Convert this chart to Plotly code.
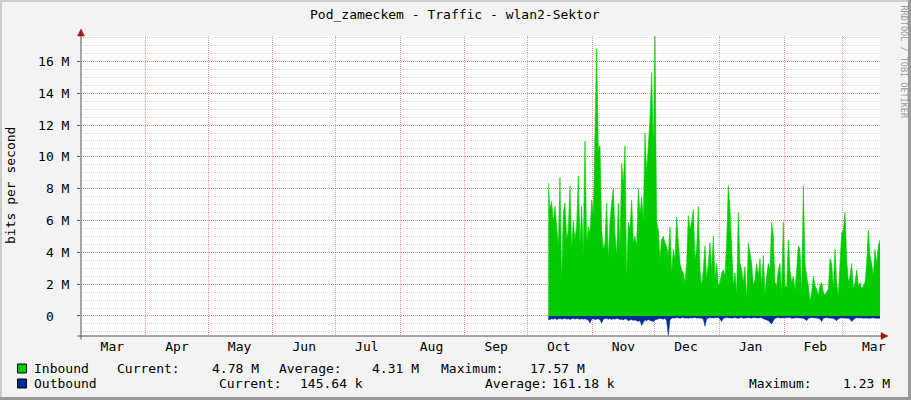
import plotly.graph_objects as go
import pandas as pd

# ---------------- data ----------------
title_text = "Pod_zameckem - Traffic - wlan2-Sektor"
y_title = "bits per second"
watermark = "RRDTOOL / TOBI OETIKER"

x_range = ["2022-03-01", "2023-03-19"]
data_start = "2022-10-11"
data_end = "2023-03-19"

month_starts = ["2022-04-01", "2022-05-01", "2022-06-01", "2022-07-01", "2022-08-01",
                "2022-09-01", "2022-10-01", "2022-11-01", "2022-12-01", "2023-01-01",
                "2023-02-01", "2023-03-01"]
month_label_dates = ["2022-03-16", "2022-04-16", "2022-05-16", "2022-06-16", "2022-07-16",
                     "2022-08-16", "2022-09-16", "2022-10-16", "2022-11-16", "2022-12-16",
                     "2023-01-16", "2023-02-16", "2023-03-16"]
month_labels = ["Mar", "Apr", "May", "Jun", "Jul", "Aug", "Sep", "Oct", "Nov", "Dec",
                "Jan", "Feb", "Mar"]

y_tick_vals = [0, 2, 4, 6, 8, 10, 12, 14, 16]
y_tick_text = ["0\u00a0\u00a0", "2 M", "4 M", "6 M", "8 M", "10 M", "12 M", "14 M", "16 M"]
y_range = [-1.26, 17.6]

# Inbound traffic, Mbit/s
inbound = [
    8.37, 6.7, 7.2, 5.9, 6.9, 5.5, 4.4, 8.7, 2.1, 6.5,
    7.1, 4.8, 5.4, 8.2, 4.2, 6.0, 4.8, 5.6, 8.8, 4.4,
    6.9, 3.9, 11.0, 4.6, 5.6, 5.2, 7.3, 6.3, 11.1, 16.8,
    10.5, 10.7, 5.4, 4.2, 4.6, 7.1, 3.6, 5.9, 7.1, 8.0,
    5.2, 3.8, 7.1, 4.2, 9.6, 8.2, 10.7, 2.3, 5.9, 5.4,
    7.3, 4.6, 5.0, 4.4, 8.0, 6.3, 7.5, 6.0, 11.5, 9.0,
    10.7, 12.4, 15.3, 10.5, 17.57, 5.9, 5.4, 3.6, 4.8, 5.0,
    4.6, 4.4, 3.8, 5.6, 2.7, 4.2, 3.5, 6.2, 4.6, 3.3,
    2.9, 2.7, 2.1, 3.3, 6.3, 5.4, 5.9, 6.7, 3.6, 4.2,
    6.9, 2.9, 1.9, 2.9, 4.4, 2.3, 3.3, 4.6, 2.9, 5.0,
    2.3, 3.3, 1.9, 2.1, 2.7, 2.9, 2.5, 4.6, 8.2, 6.7,
    4.4, 1.9, 2.7, 1.4, 6.5, 3.3, 2.9, 2.1, 3.1, 1.0,
    4.6, 3.8, 3.3, 1.9, 2.3, 3.3, 2.5, 3.6, 1.9, 3.8,
    1.4, 2.5, 3.3, 2.9, 5.9, 5.0, 2.1, 1.9, 2.9, 3.3,
    1.4, 5.9, 1.9, 1.8, 4.8, 2.9, 2.1, 2.5, 1.6, 2.9,
    4.4, 4.2, 1.3, 8.2, 3.3, 2.5, 1.9, 0.9, 1.5, 2.5,
    1.9, 1.7, 1.3, 1.9, 2.1, 1.5, 1.3, 1.5, 1.7, 3.6,
    3.3, 1.7, 4.2, 2.1, 1.3, 3.3, 5.2, 5.4, 6.5, 3.6,
    2.1, 2.5, 3.3, 1.7, 2.1, 2.9, 1.9, 2.1, 1.7, 1.9,
    2.1, 3.3, 5.4, 3.8, 3.3, 2.5, 4.2, 3.3, 4.4, 4.78,
]

# Outbound traffic, Mbit/s (drawn below zero)
outbound = [
    0.25, 0.22, 0.18, 0.2, 0.15, 0.22, 0.18, 0.16, 0.2, 0.18,
    0.15, 0.2, 0.17, 0.22, 0.18, 0.15, 0.2, 0.16, 0.18, 0.21,
    0.17, 0.2, 0.18, 0.22, 0.25, 0.45, 0.2, 0.18, 0.22, 0.2,
    0.17, 0.25, 0.45, 0.2, 0.18, 0.15, 0.2, 0.17, 0.22, 0.18,
    0.2, 0.16, 0.18, 0.22, 0.2, 0.25, 0.18, 0.2, 0.3, 0.25,
    0.22, 0.28, 0.25, 0.3, 0.35, 0.28, 0.6, 0.4, 0.25, 0.3,
    0.22, 0.28, 0.3, 0.35, 0.25, 0.2, 0.18, 0.15, 0.17, 0.2,
    0.15, 0.3, 1.23, 0.25, 0.15, 0.12, 0.14, 0.1, 0.12, 0.15,
    0.12, 0.1, 0.14, 0.12, 0.15, 0.11, 0.13, 0.12, 0.1, 0.14,
    0.12, 0.15, 0.13, 0.2, 0.65, 0.18, 0.12, 0.1, 0.13, 0.12,
    0.15, 0.12, 0.1, 0.2, 0.35, 0.15, 0.12, 0.1, 0.13, 0.11,
    0.14, 0.12, 0.1, 0.13, 0.15, 0.12, 0.1, 0.14, 0.12, 0.13,
    0.11, 0.12, 0.14, 0.1, 0.12, 0.15, 0.13, 0.11, 0.12, 0.18,
    0.2, 0.25, 0.3, 0.4, 0.5, 0.3, 0.15, 0.12, 0.1, 0.13,
    0.12, 0.14, 0.11, 0.13, 0.12, 0.1, 0.15, 0.12, 0.13, 0.11,
    0.12, 0.14, 0.12, 0.15, 0.2, 0.3, 0.15, 0.12, 0.1, 0.12,
    0.13, 0.11, 0.14, 0.2, 0.35, 0.15, 0.12, 0.1, 0.13, 0.12,
    0.14, 0.15, 0.2, 0.3, 0.18, 0.12, 0.11, 0.13, 0.12, 0.14,
    0.15, 0.2, 0.35, 0.22, 0.15, 0.12, 0.14, 0.13, 0.12, 0.15,
    0.13, 0.12, 0.14, 0.15, 0.13, 0.12, 0.14, 0.16, 0.15, 0.14564,
]

legend_names = ["Inbound", "Outbound"]
legend_colors = ["#00CC00", "#002A97"]
stat_current = ["4.78 M", "145.64 k"]
stat_average = ["4.31 M", "161.18 k"]
stat_maximum = ["17.57 M", "1.23 M"]

# ---------------- layout geometry (pixels) ----------------
W, H = 911, 400
L, R, T, B = 81, 31, 36, 64
PW, PH = W - L - R, H - T - B


def px(x):
    return (x - L) / PW


def py(y):
    return (T + PH - y) / PH


FONT = "DejaVu Sans Mono"
dates = pd.date_range(data_start, data_end, periods=len(inbound))

fig = go.Figure()
fig.add_trace(go.Scatter(
    x=dates, y=inbound, mode="lines", fill="tozeroy",
    line=dict(color="#00CC00", width=0.6), fillcolor="#00CC00",
    name="Inbound", hoverinfo="skip"))
fig.add_trace(go.Scatter(
    x=dates, y=[-v for v in outbound], mode="lines", fill="tozeroy",
    line=dict(color="#002A97", width=0.5), fillcolor="#002A97",
    name="Outbound", hoverinfo="skip"))

shapes = []
annotations = []

# frame
shapes += [
    dict(type="rect", xref="paper", yref="paper", x0=px(0), x1=px(W), y0=py(0), y1=py(2),
         fillcolor="#CBCBCB", line=dict(width=0), layer="above"),
    dict(type="rect", xref="paper", yref="paper", x0=px(0), x1=px(2), y0=py(0), y1=py(H),
         fillcolor="#CBCBCB", line=dict(width=0), layer="above"),
    dict(type="rect", xref="paper", yref="paper", x0=px(0), x1=px(W), y0=py(H - 3), y1=py(H),
         fillcolor="#999999", line=dict(width=0), layer="above"),
    dict(type="rect", xref="paper", yref="paper", x0=px(W - 3), x1=px(W), y0=py(0), y1=py(H),
         fillcolor="#999999", line=dict(width=0), layer="above"),
]

# axes lines and arrows
AX = "#555555"
AR = "#9b1b1b"
shapes += [
    dict(type="line", xref="paper", yref="paper", x0=px(81), x1=px(81), y0=py(339.5), y1=py(32),
         line=dict(color=AX, width=1), layer="above"),
    dict(type="line", xref="paper", yref="paper", x0=px(77.5), x1=px(882), y0=py(336), y1=py(336),
         line=dict(color=AX, width=1), layer="above"),
    dict(type="path", xref="paper", yref="paper",
         path=f"M {px(77.5)} {py(36)} L {px(84.5)} {py(36)} L {px(81)} {py(29)} Z",
         fillcolor=AR, line=dict(color=AR, width=0.5), layer="above"),
    dict(type="path", xref="paper", yref="paper",
         path=f"M {px(881)} {py(332.5)} L {px(881)} {py(339.5)} L {px(888)} {py(336)} Z",
         fillcolor=AR, line=dict(color=AR, width=0.5), layer="above"),
]

# title, axis title, watermark
annotations += [
    dict(text=title_text, xref="paper", yref="paper", x=px(455), y=py(15),
         xanchor="center", yanchor="middle", showarrow=False,
         font=dict(family=FONT, size=13, color="#000000")),
    dict(text=y_title, xref="paper", yref="paper", x=px(10), y=py(186), textangle=-90,
         xanchor="center", yanchor="middle", showarrow=False,
         font=dict(family=FONT, size=13, color="#000000")),
    dict(text=watermark, xref="paper", yref="paper", x=px(903), y=py(61.5), textangle=90,
         xanchor="center", yanchor="middle", showarrow=False,
         font=dict(family=FONT, size=8.5, color="#9a9a9a")),
]

# legend
legend_rows_y = [368.5, 383.5]
row_x = [
    [34, 117, 212, 279, 372, 441, 530],
    [34, 219, 300, 485, 552, 749, 843],
]
for i, name in enumerate(legend_names):
    yc = legend_rows_y[i]
    shapes.append(dict(type="rect", xref="paper", yref="paper",
                       x0=px(17.5), x1=px(26.5), y0=py(yc - 4.5), y1=py(yc + 4.5),
                       fillcolor=legend_colors[i], line=dict(color="#000000", width=1),
                       layer="above"))
    parts = [name, "Current:", stat_current[i], "Average:", stat_average[i],
             "Maximum:", stat_maximum[i]]
    for xpos, txt in zip(row_x[i], parts):
        annotations.append(dict(text=txt, xref="paper", yref="paper", x=px(xpos - 2), y=py(yc),
                                xanchor="left", yanchor="middle", showarrow=False,
                                font=dict(family=FONT, size=13, color="#000000")))

fig.update_layout(
    width=W, height=H,
    margin=dict(l=L, r=R, t=T, b=B, pad=0, autoexpand=False),
    paper_bgcolor="#F3F3F3", plot_bgcolor="#FFFFFF",
    showlegend=False,
    font=dict(family=FONT, size=13, color="#000000"),
    shapes=shapes, annotations=annotations,
    xaxis=dict(
        type="date", range=x_range, showline=False, zeroline=False, automargin=False,
        tickmode="array", tickvals=month_label_dates, ticktext=month_labels,
        ticks="", showgrid=False, ticklabelstandoff=1,
        tickfont=dict(family=FONT, size=13, color="#000000"),
        minor=dict(tickmode="array", tickvals=month_starts, showgrid=True,
                   gridcolor="rgba(255,0,0,0.42)", griddash="1px,1px", gridwidth=1, ticks=""),
    ),
    yaxis=dict(
        range=y_range, showline=False, zeroline=False, automargin=False,
        tickmode="array", tickvals=y_tick_vals, ticktext=y_tick_text,
        ticks="outside", ticklen=3, tickcolor=AX, tickwidth=1, ticklabelstandoff=5,
        showgrid=True, gridcolor="rgba(255,0,0,0.38)", griddash="1px,1px", gridwidth=1,
        tickfont=dict(family=FONT, size=13, color="#000000"),
        minor=dict(dtick=0.5, tick0=0, showgrid=True, gridcolor="rgba(128,128,128,0.35)",
                   griddash="1px,1px", gridwidth=1, ticks=""),
    ),
)

fig.write_html("out.html",
               config={"displayModeBar": False, "staticPlot": True},
               post_script="document.body.style.margin='0';document.body.style.padding='0';")
